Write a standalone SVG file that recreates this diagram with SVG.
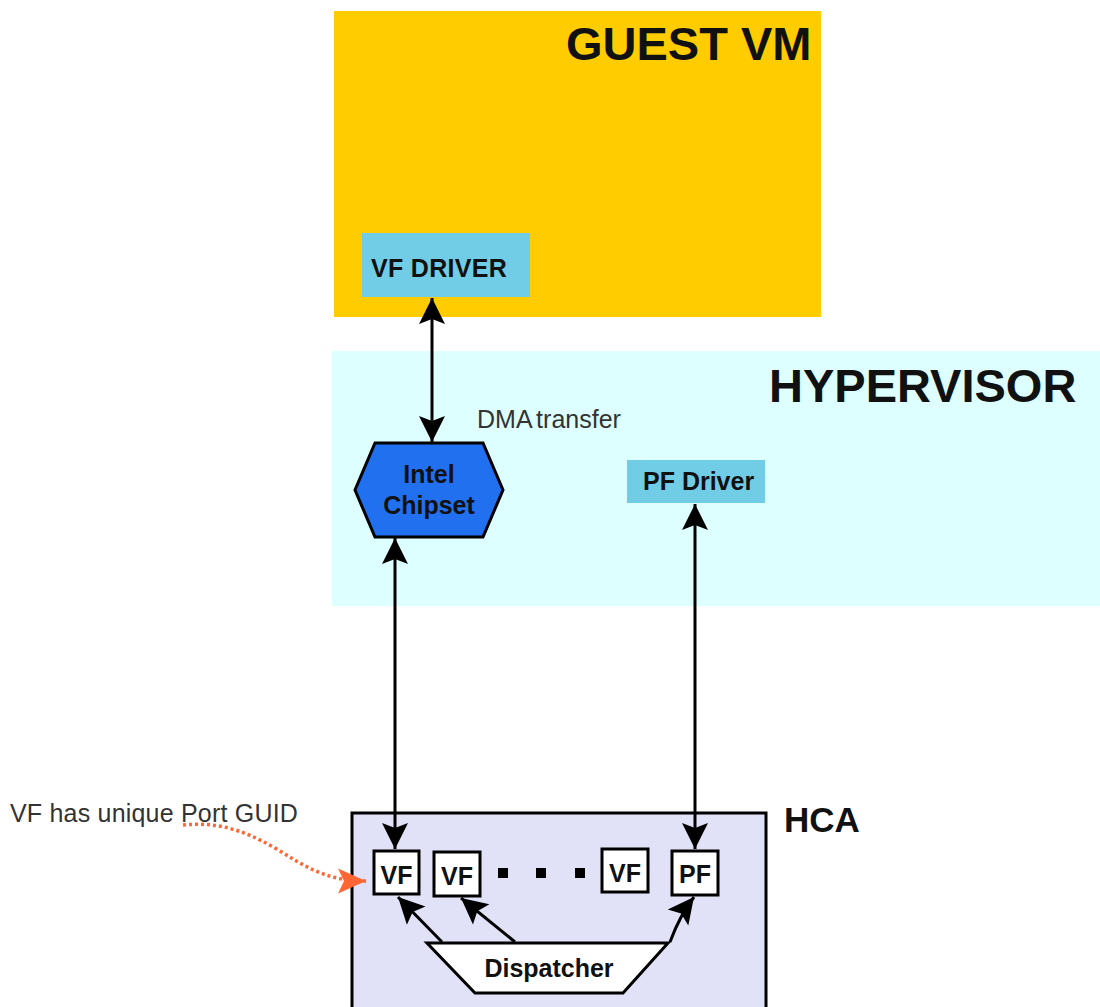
<svg xmlns="http://www.w3.org/2000/svg" width="1100" height="1007" viewBox="0 0 1100 1007">
  <style>
    .bold { font-family: "Liberation Sans", Arial, sans-serif; font-weight: bold; fill: #111; }
    .plain { font-family: "Liberation Sans", Arial, sans-serif; fill: #333; }
    .conn { stroke: #000; stroke-width: 3; fill: none; }
    .box { fill: #fff; stroke: #000; stroke-width: 3; }
  </style>
  <defs>
    <marker id="arrow" viewBox="-28 -14 30 28" refX="0" refY="0" markerWidth="30" markerHeight="28" markerUnits="userSpaceOnUse" orient="auto-start-reverse">
      <path d="M0,0 L-26,-13 L-21,0 L-26,13 Z" fill="#000"/>
    </marker>
    <marker id="arrowOrange" viewBox="-30 -14 32 28" refX="0" refY="0" markerWidth="32" markerHeight="28" markerUnits="userSpaceOnUse" orient="auto">
      <path d="M0,0 L-28,-12.5 L-22,0 L-28,12.5 Z" fill="#FF6633"/>
    </marker>
  </defs>

  <!-- Guest VM region -->
  <g id="guest-vm">
    <rect x="334" y="11" width="487" height="306" fill="#FFCC00"/>
    <text class="bold" x="566" y="60" font-size="47">GUEST VM</text>
  </g>

  <g id="vf-driver">
    <rect x="362" y="233" width="168" height="64" fill="#70CDE5"/>
    <text class="bold" x="371" y="277" font-size="25" letter-spacing="0.3">VF DRIVER</text>
  </g>

  <!-- Hypervisor region -->
  <g id="hypervisor">
    <rect x="332" y="351" width="768" height="255" fill="#DDFFFF"/>
    <text class="bold" x="769" y="402" font-size="47">HYPERVISOR</text>
  </g>

  <g id="intel-chipset">
    <polygon points="375,443 483,443 503,490 483,537 375,537 355,490" fill="#2070F0" stroke="#000" stroke-width="3"/>
    <text class="bold" x="429" y="483" font-size="25" text-anchor="middle">Intel</text>
    <text class="bold" x="429" y="514" font-size="25" text-anchor="middle">Chipset</text>
  </g>

  <g id="pf-driver">
    <rect x="627" y="460" width="138" height="43" fill="#70CDE5"/>
    <text class="bold" x="643" y="490" font-size="25">PF Driver</text>
  </g>

  <text class="plain" x="477" y="428" font-size="25" word-spacing="-2">DMA transfer</text>

  <!-- HCA adapter -->
  <g id="hca">
    <rect x="352" y="813" width="414" height="200" fill="#E1E1F7" stroke="#000" stroke-width="3"/>
    <text class="bold" x="784" y="832" font-size="35">HCA</text>
  </g>

  <g id="vf-1">
    <rect class="box" x="374" y="851" width="45" height="43"/>
    <text class="bold" x="396.5" y="884" font-size="25" text-anchor="middle">VF</text>
  </g>
  <g id="vf-2">
    <rect class="box" x="434" y="852" width="46" height="44"/>
    <text class="bold" x="457" y="885" font-size="25" text-anchor="middle">VF</text>
  </g>
  <g id="ellipsis">
    <rect x="498" y="868" width="10" height="10" fill="#000"/>
    <rect x="536" y="868" width="10" height="10" fill="#000"/>
    <rect x="575" y="868" width="10" height="10" fill="#000"/>
  </g>
  <g id="vf-n">
    <rect class="box" x="602" y="849" width="46" height="43"/>
    <text class="bold" x="625" y="882" font-size="25" text-anchor="middle">VF</text>
  </g>
  <g id="pf">
    <rect class="box" x="672" y="851" width="46" height="44"/>
    <text class="bold" x="695" y="883" font-size="25" text-anchor="middle">PF</text>
  </g>

  <g id="dispatcher">
    <polygon points="427,943 668,943 623,993 475,993" fill="#fff" stroke="#000" stroke-width="3"/>
    <text class="bold" x="549" y="977" font-size="25" text-anchor="middle">Dispatcher</text>
  </g>

  <!-- Side note -->
  <text class="plain" x="10" y="822" font-size="25" letter-spacing="0.2">VF has unique Port GUID</text>

  <!-- Connectors -->
  <g id="connectors">
    <line class="conn" x1="432" y1="298" x2="432" y2="442" marker-start="url(#arrow)" marker-end="url(#arrow)"/>
    <line class="conn" x1="395" y1="538" x2="395" y2="849" marker-start="url(#arrow)" marker-end="url(#arrow)"/>
    <line class="conn" x1="695" y1="504" x2="695" y2="849" marker-start="url(#arrow)" marker-end="url(#arrow)"/>
    <line class="conn" x1="442" y1="942" x2="398" y2="897" marker-end="url(#arrow)"/>
    <line class="conn" x1="515" y1="942" x2="461" y2="898" marker-end="url(#arrow)"/>
    <path class="conn" d="M670,942 Q680,915 694,897" marker-end="url(#arrow)"/>
    <path d="M183,825 C215,822 240,828 275,848 C305,866 325,881 366,881" fill="none" stroke="#FF6633" stroke-width="3.5" stroke-dasharray="3,3" marker-end="url(#arrowOrange)"/>
  </g>
</svg>
